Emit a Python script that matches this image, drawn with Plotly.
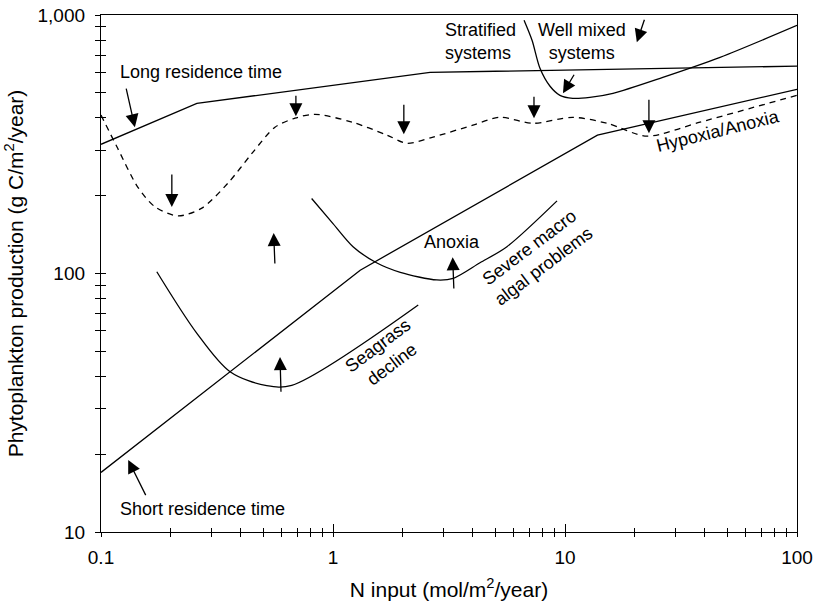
import numpy as np
import plotly.graph_objects as go

# N input (mol/m2/year) vs phytoplankton production (g C/m2/year)
long_res_n = [0.1, 0.259, 2.62, 100]
long_res_p = [316, 455, 600, 634]

short_res_n = [0.1, 1.31, 13.8, 100]
short_res_p = [17, 103, 343, 516]

hypoxia_n = [0.1, 0.118, 0.144, 0.171, 0.215, 0.272, 0.353, 0.448, 0.562, 0.686,
             0.836, 1.21, 1.71, 2.08, 2.70, 4.01, 5.25, 7.28, 10.8, 15.2, 22.6, 38.2, 100]
hypoxia_p = [410, 305, 216, 181, 167, 179, 224, 292, 368, 399,
             413, 385, 343, 319, 337, 375, 402, 381, 402, 381, 340, 385, 489]

stratified_n = [6.66, 7.21, 7.80, 8.62, 9.51, 10.8, 12.8, 16.1, 26.4, 46.6, 100]
stratified_p = [954, 798, 622, 530, 489, 476, 480, 498, 574, 686, 912]

seagrass_n = [0.174, 0.259, 0.360, 0.518, 0.664, 2.33]
seagrass_p = [101.6, 58.7, 41.7, 36.8, 36.9, 75.5]

anoxia_n = [0.809, 1.00, 1.22, 1.54, 1.95, 2.80, 3.30, 4.30, 5.62, 9.24]
anoxia_p = [195, 156, 127, 110, 101, 94.4, 95.8, 110, 127, 191]

# arrows: tail -> tip
arrow_tail_n = [0.128, 0.202, 0.692, 2.02, 7.35, 23.0, 22.1, 11.04, 0.562, 0.597, 3.32, 0.157]
arrow_tail_p = [526, 245, 494, 456, 489, 476, 971, 595, 107.8, 34.4, 86.4, 13.7]
arrow_tip_n = [0.140, 0.202, 0.692, 2.02, 7.35, 23.0, 20.4, 9.80, 0.555, 0.591, 3.28, 0.131]
arrow_tip_p = [368, 181, 406, 346, 399, 349, 785, 498, 143.4, 47.5, 115.5, 19.0]

# text labels
label_text = ["Long residence time", "Stratified<br>systems", "Well mixed<br>systems",
              "Hypoxia/Anoxia", "Anoxia", "Severe macro<br>algal problems",
              "Seagrass<br>decline", "Short residence time"]
label_n = [0.1184, 2.98, 11.84, 45.6, 3.27, 7.55, 1.68, 0.1184]
label_p = [600, 791, 791, 355, 132, 116, 48.4, 12.3]
label_angle = [0, 0, 0, -14, 0, -37, -37, 0]
label_xanchor = ["left", "left", "center", "center", "center", "center", "center", "left"]
label_align = ["left", "left", "center", "center", "center", "center", "center", "left"]

x_major = [0.1, 1, 10, 100]
x_major_text = ["0.1", "1", "10", "100"]
x_minor = [m * d for d in (0.1, 1, 10) for m in range(2, 10)]
y_major = [10, 100, 1000]
y_major_text = ["10", "100", "1,000"]
y_minor = [m * d for d in (10, 100) for m in range(2, 10)]

FONT = "Liberation Sans, Arial, Helvetica, sans-serif"
LW = 1.3

fig = go.Figure()

for xs, ys, shape, dash, sm in [
    (long_res_n, long_res_p, "linear", "solid", 0),
    (short_res_n, short_res_p, "linear", "solid", 0),
    (hypoxia_n, hypoxia_p, "spline", "6px,5px", 0.8),
    (stratified_n, stratified_p, "spline", "solid", 0.8),
    (seagrass_n, seagrass_p, "spline", "solid", 0.9),
    (anoxia_n, anoxia_p, "spline", "solid", 0.8),
]:
    line = dict(color="black", width=LW, shape=shape, dash=dash)
    if shape == "spline":
        line["smoothing"] = sm
    fig.add_trace(go.Scatter(x=xs, y=ys, mode="lines", showlegend=False, hoverinfo="skip",
                             line=line))

# invisible trace so the overlay axes get drawn
for xa, ya in [("x2", "y2"), ("x3", "y3")]:
    fig.add_trace(go.Scatter(x=[1], y=[100], xaxis=xa, yaxis=ya, mode="markers",
                             marker=dict(opacity=0), showlegend=False, hoverinfo="skip"))

annotations = []
for tn, tp, hn, hp in zip(arrow_tail_n, arrow_tail_p, arrow_tip_n, arrow_tip_p):
    annotations.append(dict(
        x=np.log10(hn), y=np.log10(hp), ax=np.log10(tn), ay=np.log10(tp),
        xref="x", yref="y", axref="x", ayref="y", text="", showarrow=True,
        arrowhead=2, arrowsize=2.0, arrowwidth=1.3, arrowcolor="black", standoff=0,
    ))
for t, n, p, a, xa, al in zip(label_text, label_n, label_p, label_angle, label_xanchor, label_align):
    annotations.append(dict(
        x=np.log10(n), y=np.log10(p), xref="x", yref="y", text=t, showarrow=False,
        textangle=a, xanchor=xa, yanchor="middle", align=al,
        font=dict(family=FONT, size=18, color="black"),
    ))

axis_common = dict(type="log", showgrid=False, zeroline=False, automargin=False)

fig.update_layout(
    width=818, height=604,
    margin=dict(l=101, r=21, t=15, b=72, autoexpand=False),
    paper_bgcolor="white", plot_bgcolor="white",
    font=dict(family=FONT, color="black"),
    annotations=annotations,
    xaxis=dict(**axis_common, range=[-1, 2], showline=True, linecolor="black", linewidth=LW,
               mirror=True, ticks="outside", ticklen=4, tickwidth=1.2, tickcolor="black",
               tickvals=x_major + x_minor,
               ticktext=x_major_text + [""] * len(x_minor),
               tickfont=dict(size=19), ticklabelstandoff=4,
               title=dict(text="N input (mol/m<sup>2</sup>/year)", font=dict(size=21), standoff=15)),
    yaxis=dict(**axis_common, range=[1, 3], showline=True, linecolor="black", linewidth=LW,
               mirror=True, ticks="outside", ticklen=5, tickwidth=1.2, tickcolor="black",
               tickvals=y_major + y_minor,
               ticktext=y_major_text + [""] * len(y_minor),
               tickfont=dict(size=19), ticklabelstandoff=6,
               title=dict(text="Phytoplankton production (g C/m<sup>2</sup>/year)",
                          font=dict(size=21), standoff=8)),
    xaxis2=dict(**axis_common, range=[-1, 2], overlaying="x", anchor="y", side="bottom",
                ticks="inside", ticklen=4, tickwidth=1.2, tickcolor="black",
                tickvals=x_minor, showticklabels=False, showline=False),
    yaxis2=dict(**axis_common, range=[1, 3], overlaying="y", anchor="x", side="left",
                ticks="inside", ticklen=5, tickwidth=1.2, tickcolor="black",
                tickvals=y_major + y_minor, showticklabels=False, showline=False),
    xaxis3=dict(**axis_common, range=[-1, 2], overlaying="x", anchor="y", side="bottom",
                ticks="inside", ticklen=8, tickwidth=1.2, tickcolor="black",
                tickvals=x_major, showticklabels=False, showline=False),
    yaxis3=dict(**axis_common, range=[1, 3], overlaying="y", anchor="x", side="left",
                showticklabels=False, showline=False, ticks=""),
)

fig.write_html("out.html")
